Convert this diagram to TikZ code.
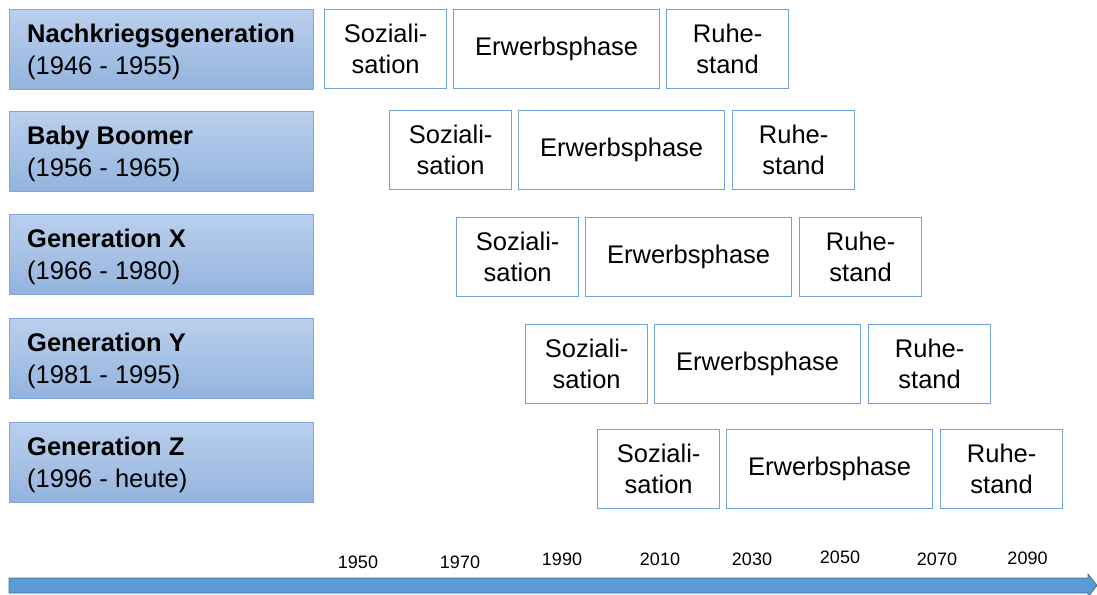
\documentclass[tikz,border=0pt]{standalone}
\usepackage{fontspec}
\setmainfont{Liberation Sans}
\definecolor{genTop}{HTML}{BAD0EC}
\definecolor{genBot}{HTML}{93B3DE}
\definecolor{genLine}{HTML}{7FA8DA}
\definecolor{phaseLine}{HTML}{6FA3DA}
\definecolor{axisFill}{HTML}{5B9BD5}
\definecolor{axisLine}{HTML}{41719C}
\tikzset{
  genbox/.style={draw=genLine, line width=1.2pt, top color=genTop, bottom color=genBot,
    anchor=north west, minimum height=80pt, minimum width=304pt, inner sep=0pt},
  gentext/.style={anchor=west, inner sep=0pt, align=left,
    font=\fontsize{25.5}{32}\selectfont},
  phasebox/.style={draw=phaseLine, line width=1.3pt, fill=white, anchor=north west,
    minimum height=79pt, inner sep=0pt, align=center, font=\fontsize{25.5}{31}\selectfont},
  soz/.style={phasebox, minimum width=122pt},
  erw/.style={phasebox, minimum width=206pt},
  ruh/.style={phasebox, minimum width=122pt},
  yearlbl/.style={font=\fontsize{18}{18}\selectfont, inner sep=0pt}
}
\newcommand{\genrow}[4]{%
  \node[genbox] (#1) at (9,#2) {};
  \node[gentext] (#1t) at ([xshift=18pt, yshift=-2pt]#1.west) {\textbf{#3}\\#4};
}
\begin{document}
\begin{tikzpicture}[x=1pt, y=-1pt]
\useasboundingbox (0,0) rectangle (1097,594);

% generation labels
\genrow{g1}{9}{Nachkriegsgeneration}{(1946 - 1955)}
\genrow{g2}{111}{Baby Boomer}{(1956 - 1965)}
\genrow{g3}{214}{Generation X}{(1966 - 1980)}
\genrow{g4}{318}{Generation Y}{(1981 - 1995)}
\genrow{g5}{422}{Generation Z}{(1996 - heute)}

% life phases of each generation
\node[soz] (s1) at (324,9)   {Soziali-\\sation};
\node[erw] (e1) at (453,9)   {Erwerbsphase};
\node[ruh] (r1) at (666,9)   {Ruhe-\\stand};

\node[soz] (s2) at (389,110) {Soziali-\\sation};
\node[erw] (e2) at (518,110) {Erwerbsphase};
\node[ruh] (r2) at (732,110) {Ruhe-\\stand};

\node[soz] (s3) at (456,217) {Soziali-\\sation};
\node[erw] (e3) at (585,217) {Erwerbsphase};
\node[ruh] (r3) at (799,217) {Ruhe-\\stand};

\node[soz] (s4) at (525,324) {Soziali-\\sation};
\node[erw] (e4) at (654,324) {Erwerbsphase};
\node[ruh] (r4) at (868,324) {Ruhe-\\stand};

\node[soz] (s5) at (597,429) {Soziali-\\sation};
\node[erw] (e5) at (726,429) {Erwerbsphase};
\node[ruh] (r5) at (940,429) {Ruhe-\\stand};

% year scale
\node[yearlbl] (y1950) at (358,562) {1950};
\node[yearlbl] (y1970) at (460,562) {1970};
\node[yearlbl] (y1990) at (562,559.5) {1990};
\node[yearlbl] (y2010) at (660,559.5) {2010};
\node[yearlbl] (y2030) at (752,559.5) {2030};
\node[yearlbl] (y2050) at (840,557.5) {2050};
\node[yearlbl] (y2070) at (937,559.5) {2070};
\node[yearlbl] (y2090) at (1027.5,558) {2090};

% time axis arrow
\coordinate (axstart) at (9,578);
\coordinate (axtip) at (1097,585.5);
\draw[axisLine, fill=axisFill, line width=0.8pt, line join=miter]
  (axstart) -- (1088,578) -- (1088,574) -- (axtip) -- (1088,597) -- (1088,593) -- (9,593) -- cycle;
\end{tikzpicture}
\end{document}
